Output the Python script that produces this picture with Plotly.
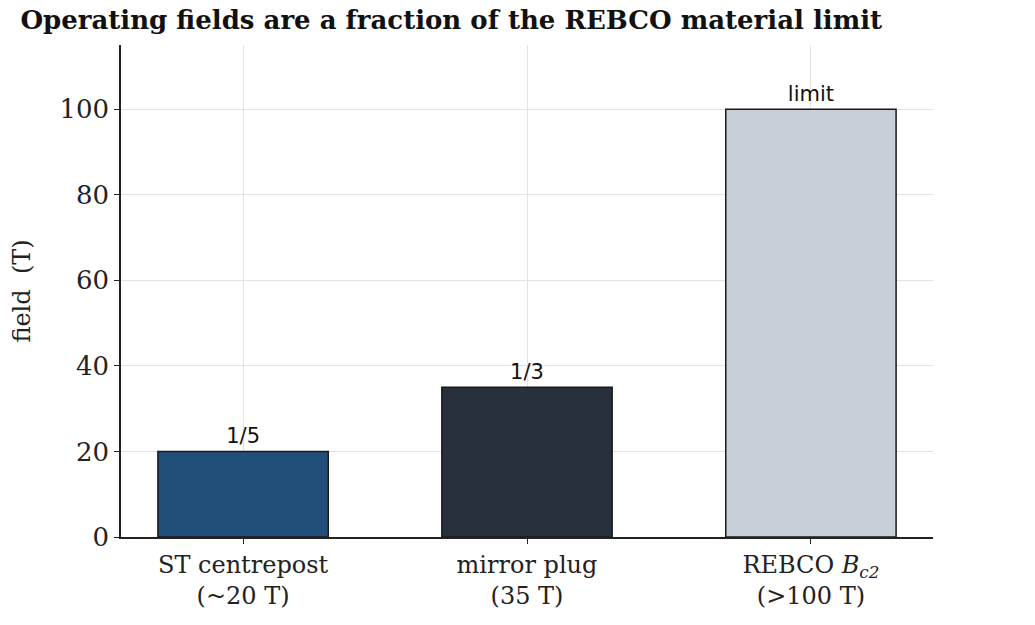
import plotly.graph_objects as go

categories = ["ST centrepost<br>(~20 T)", "mirror plug<br>(35 T)", "REBCO <i>B<sub>c2</sub></i><br>(>100 T)"]
fields = [20, 35, 100]
bar_labels = ["1/5", "1/3", "limit"]
colors = ["#224f7a", "#27313d", "#c8cfd8"]

fig = go.Figure()
fig.add_trace(go.Bar(
    x=categories, y=fields, width=0.6,
    marker=dict(color=colors, line=dict(color="#1a1a1a", width=1.5)),
    text=bar_labels, textposition="outside",
    textfont=dict(family="DejaVu Sans", size=21, color="#111"),
    cliponaxis=False, showlegend=False,
))

fig.update_layout(
    width=1035, height=625,
    margin=dict(l=113, r=110, t=37, b=96),
    plot_bgcolor="white", paper_bgcolor="white",
    title=dict(text="<b>Operating fields are a fraction of the REBCO material limit</b>",
               x=0.012, xanchor="left", y=0.995, yanchor="top",
               font=dict(family="DejaVu Serif", size=26, color="#111")),
    font=dict(family="DejaVu Serif", color="#222"),
)
fig.update_xaxes(range=[-0.43, 2.43], showline=True, linecolor="#222", linewidth=1.5,
                 showgrid=True, gridcolor="#e3e3e3", tickfont=dict(size=24),
                 ticks="outside", ticklen=5, tickcolor="#222")
fig.update_yaxes(range=[0, 115], dtick=20, showline=True, linecolor="#222", linewidth=1.5,
                 showgrid=True, gridcolor="#e3e3e3", tickfont=dict(size=26),
                 ticks="outside", ticklen=5, tickcolor="#222", zeroline=False,
                 title=dict(text="field  (T)", font=dict(size=24), standoff=22))

fig.write_html("out.html")
